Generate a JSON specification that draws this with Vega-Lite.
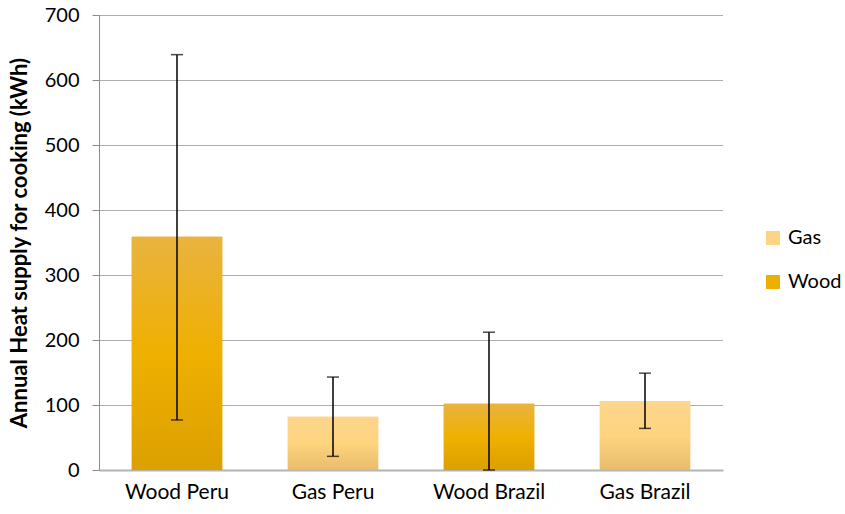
{
  "$schema": "https://vega.github.io/schema/vega-lite/v6.json",
  "width": 624,
  "height": 455,
  "autosize": {"type": "none"},
  "padding": {"left": 99, "top": 15, "right": 122, "bottom": 44},
  "background": "white",
  "config": {
    "view": {"stroke": null},
    "font": "Lato",
    "axis": {"labelFont": "Lato", "titleFont": "Lato", "labelColor": "#000000", "titleColor": "#000000"},
    "axisY": {
      "titleFontSize": 22,
      "titleFontWeight": "bold",
      "titlePadding": 13,
      "labelFontSize": 20,
      "labelPadding": 13,
      "labelOverlap": false,
      "tickSize": 7,
      "tickColor": "#8C8C8C",
      "domainColor": "#8C8C8C",
      "gridColor": "#5A5A5A",
      "gridDash": [1, 1],
      "gridWidth": 1
    }
  },
  "data": {
    "values": [
      {"Category": "Wood Peru", "Fuel": "Wood", "Value": 359, "Low": 77, "High": 639},
      {"Category": "Gas Peru", "Fuel": "Gas", "Value": 82, "Low": 21, "High": 143},
      {"Category": "Wood Brazil", "Fuel": "Wood", "Value": 102, "Low": 0, "High": 212},
      {"Category": "Gas Brazil", "Fuel": "Gas", "Value": 106, "Low": 64, "High": 149}
    ]
  },
  "encoding": {
    "x": {
      "field": "Category",
      "type": "nominal",
      "sort": ["Wood Peru", "Gas Peru", "Wood Brazil", "Gas Brazil"],
      "scale": {"paddingInner": 0.42, "paddingOuter": 0.21},
      "axis": {
        "title": null,
        "labelAngle": 0,
        "labelFontSize": 21,
        "labelPadding": 11,
        "ticks": false,
        "domainColor": "#B3B3B3",
        "domainWidth": 2,
        "grid": false
      }
    }
  },
  "layer": [
    {
      "mark": {"type": "bar"},
      "encoding": {
        "y": {
          "field": "Value",
          "type": "quantitative",
          "scale": {"domain": [0, 700]},
          "axis": {"title": "Annual Heat supply for cooking (kWh)", "values": [0, 100, 200, 300, 400, 500, 600, 700]}
        },
        "color": {
          "field": "Fuel",
          "type": "nominal",
          "scale": {"domain": ["Gas", "Wood"], "range": ["#FDD486", "#EDAF00"]},
          "legend": {
            "title": null,
            "orient": "none",
            "legendX": 664,
            "legendY": 213,
            "symbolType": "square",
            "symbolSize": 196,
            "symbolStrokeWidth": 0,
            "labelFontSize": 20,
            "labelOffset": 5,
            "rowPadding": 24
          }
        }
      }
    },
    {
      "mark": {"type": "bar"},
      "encoding": {
        "y": {"field": "Value", "type": "quantitative", "axis": {"title": "Annual Heat supply for cooking (kWh)", "values": [0, 100, 200, 300, 400, 500, 600, 700]}},
        "fill": {
          "condition": {
            "test": "datum.Fuel === 'Wood'",
            "value": {
              "gradient": "linear", "x1": 0, "y1": 0, "x2": 0, "y2": 1,
              "stops": [
                {"offset": 0, "color": "#E9B340"},
                {"offset": 0.5, "color": "#EFB000"},
                {"offset": 1, "color": "#DCA000"}
              ]
            }
          },
          "value": {
            "gradient": "linear", "x1": 0, "y1": 0, "x2": 0, "y2": 1,
            "stops": [
              {"offset": 0, "color": "#FDD68C"},
              {"offset": 0.5, "color": "#FED47F"},
              {"offset": 1, "color": "#E8BC6C"}
            ]
          }
        }
      }
    },
    {
      "mark": {"type": "rule", "color": "#000000", "strokeWidth": 1.5},
      "encoding": {
        "y": {"field": "Low", "type": "quantitative", "axis": {"title": "Annual Heat supply for cooking (kWh)", "values": [0, 100, 200, 300, 400, 500, 600, 700]}},
        "y2": {"field": "High"}
      }
    },
    {
      "mark": {"type": "tick", "color": "#000000", "size": 12, "thickness": 1.5},
      "encoding": {
        "y": {"field": "Low", "type": "quantitative", "axis": {"title": "Annual Heat supply for cooking (kWh)", "values": [0, 100, 200, 300, 400, 500, 600, 700]}}
      }
    },
    {
      "mark": {"type": "tick", "color": "#000000", "size": 12, "thickness": 1.5},
      "encoding": {
        "y": {"field": "High", "type": "quantitative", "axis": {"title": "Annual Heat supply for cooking (kWh)", "values": [0, 100, 200, 300, 400, 500, 600, 700]}}
      }
    }
  ]
}
